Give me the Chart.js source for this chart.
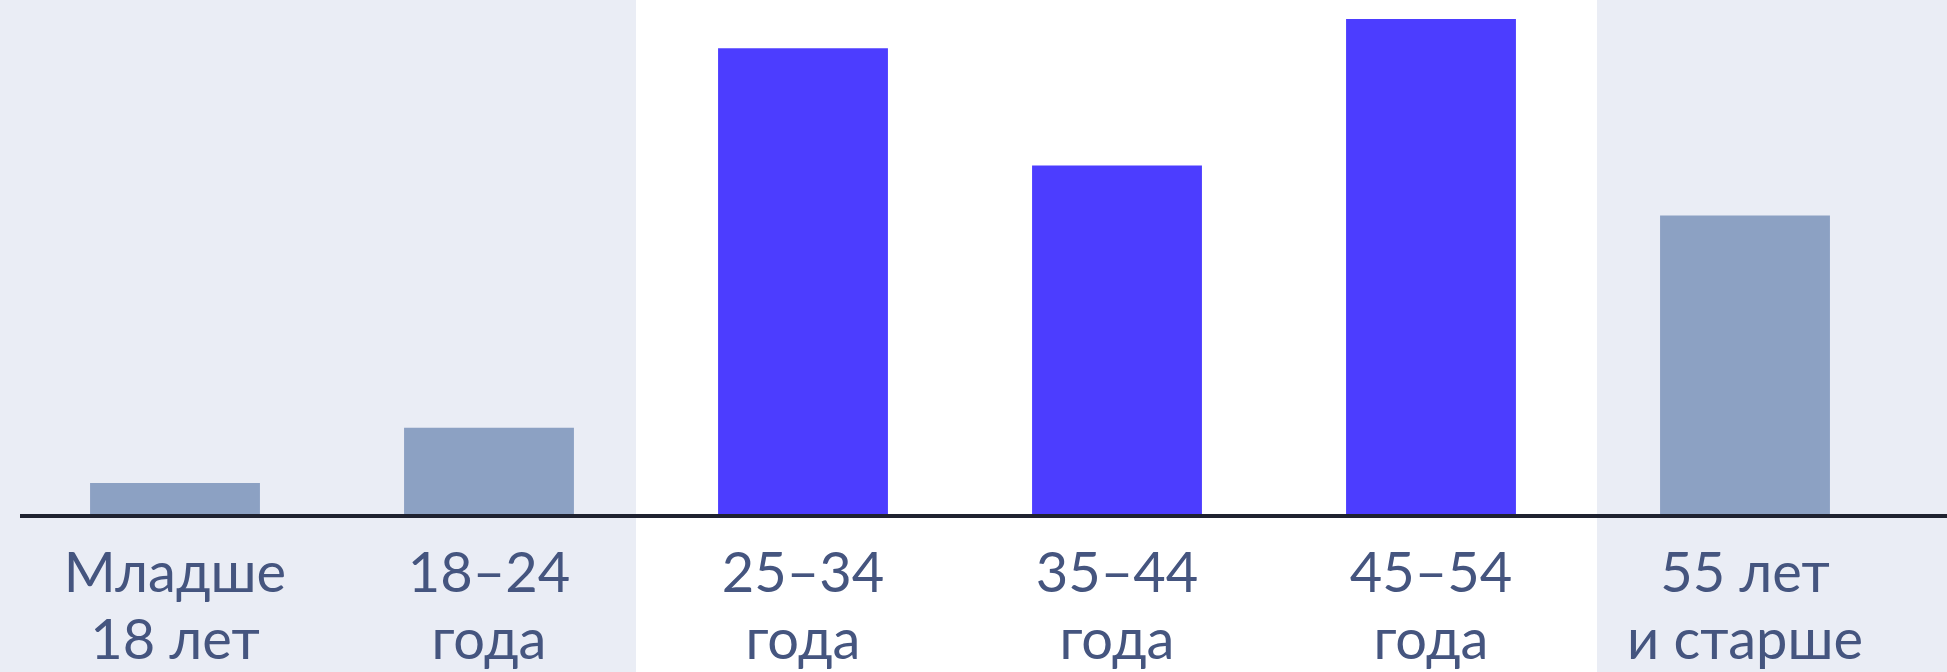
<!DOCTYPE html>
<html>
<head>
<meta charset="utf-8">
<script src="https://cdn.jsdelivr.net/npm/chart.js@4.4.0/dist/chart.umd.min.js"></script>
<style>
  html, body { margin: 0; padding: 0; }
  body {
    width: 1947px; height: 672px; overflow: hidden;
    /* серые полосы по краям, белая середина */
    background: linear-gradient(to right, #eaedf5 0, #eaedf5 636px, #ffffff 636px, #ffffff 1597px, #eaedf5 1597px);
  }
  #wrap { position: relative; width: 1947px; height: 672px; }
</style>
</head>
<body>
<div id="wrap"><canvas id="chart"></canvas></div>
<script>
// === данные ===
const categorias = [
  ['Младше', '18 лет'],
  ['18–24', 'года'],
  ['25–34', 'года'],
  ['35–44', 'года'],
  ['45–54', 'года'],
  ['55 лет', 'и старше']
];
const valores = [1.8, 5.0, 27.0, 20.2, 28.7, 17.3];
const destaque = [false, false, true, true, true, false];

const COR_CINZA = '#8ca1c3';
const COR_AZUL = '#4c3dff';
const COR_TEXTO = '#45557f';

// linha do eixo, um pouco mais longa que a área do gráfico
const linhaEixo = {
  id: 'linhaEixo',
  afterDatasetsDraw(chart) {
    const { ctx, chartArea, scales } = chart;
    const y = scales.y.getPixelForValue(0);
    ctx.save();
    ctx.fillStyle = '#1f2230';
    ctx.fillRect(chartArea.left + 2, y, chart.width - chartArea.left, 4);
    ctx.restore();
  }
};

new Chart(document.getElementById('chart'), {
  type: 'bar',
  data: {
    labels: categorias,
    datasets: [{
      data: valores,
      backgroundColor: destaque.map(d => d ? COR_AZUL : COR_CINZA),
      borderWidth: 0,
      categoryPercentage: 1,
      barPercentage: 0.541
    }]
  },
  options: {
    responsive: true,
    maintainAspectRatio: false,
    animation: false,
    layout: { padding: { left: 18, right: 45, top: 0, bottom: 0 } },
    plugins: { legend: { display: false }, tooltip: { enabled: false } },
    scales: {
      x: {
        grid: { display: false, drawTicks: false },
        border: { display: false },
        ticks: {
          color: COR_TEXTO,
          padding: 26,
          maxRotation: 0,
          autoSkip: false,
          font: { family: 'Lato', size: 56, weight: 'normal', lineHeight: 1.2 }
        },
        afterFit(scale) { scale.height = 158; }
      },
      y: {
        display: false,
        min: 0,
        max: 29.8
      }
    }
  },
  plugins: [linhaEixo]
});
</script>
</body>
</html>
